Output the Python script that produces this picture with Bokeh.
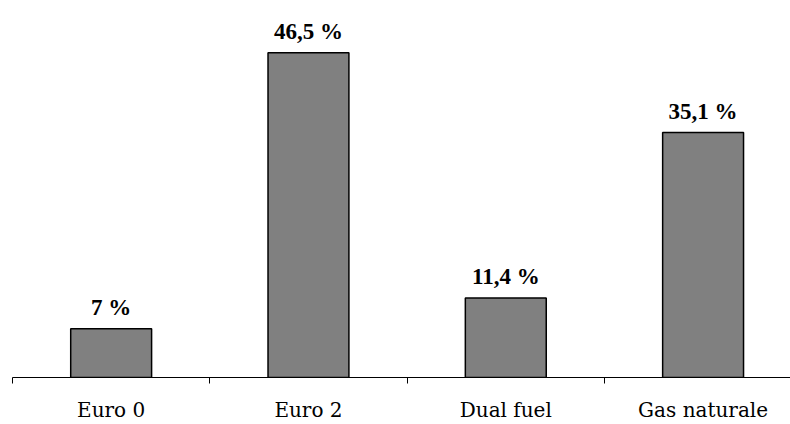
from bokeh.plotting import figure
from bokeh.models import ColumnDataSource, FixedTicker, Range1d
from bokeh.core.properties import value
from bokeh.embed import file_html
from bokeh.resources import INLINE

# Share of vehicles by engine type (%)
categories = ["Euro 0", "Euro 2", "Dual fuel", "Gas naturale"]
shares = [7.0, 46.5, 11.4, 35.1]
share_labels = ["7 %", "46,5 %", "11,4 %", "35,1 %"]

centers = [i + 0.5 for i in range(len(categories))]

source = ColumnDataSource(data=dict(
    x=centers,
    top=shares,
    label=share_labels,
))

p = figure(
    width=790, height=424,
    output_backend="svg",
    toolbar_location=None,
    x_range=Range1d(0, 3.943),
    y_range=Range1d(0, 54),
    min_border_left=12, min_border_right=0,
    min_border_top=0, min_border_bottom=46,
    background_fill_color="white",
    border_fill_color="white",
)
p.outline_line_color = None
p.xgrid.visible = False
p.ygrid.visible = False
p.yaxis.visible = False

p.vbar(x="x", top="top", bottom=0, width=0.41, source=source,
       fill_color="#808080", line_color="#000000", line_width=1.5)

p.text(x="x", y="top", text="label", source=source,
       text_font=value("Liberation Serif"), text_font_style="bold",
       text_font_size="23px", text_color="#000000",
       text_align="center", text_baseline="alphabetic", y_offset=-21)

ax = p.xaxis[0]
ax.ticker = FixedTicker(ticks=centers,
                        minor_ticks=list(range(len(categories) + 1)))
ax.major_label_overrides = {c: name for c, name in zip(centers, categories)}
ax.major_tick_in = 0
ax.major_tick_out = 0
ax.minor_tick_in = 0
ax.minor_tick_out = 6
ax.minor_tick_line_color = "#000000"
ax.axis_line_color = "#000000"
ax.axis_line_width = 1
ax.major_label_standoff = 14
ax.major_label_text_font = "DejaVu Serif"
ax.major_label_text_font_size = "20px"
ax.major_label_text_color = "#000000"

open("out.html", "w").write(file_html(p, INLINE))
